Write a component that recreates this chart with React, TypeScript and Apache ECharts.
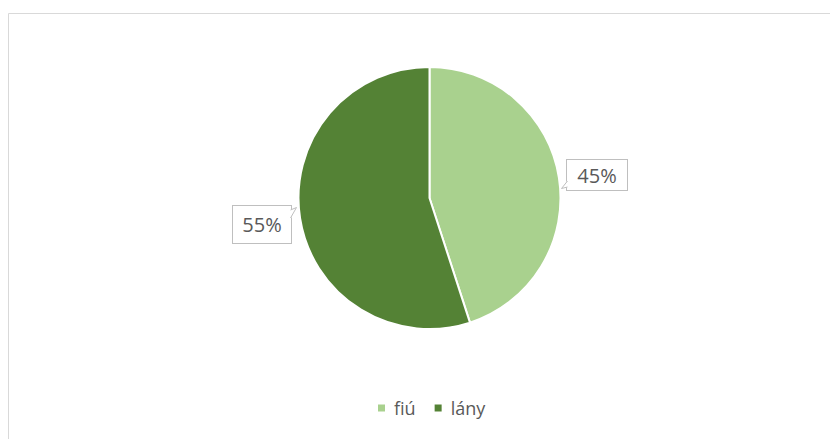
import React, { useEffect, useRef } from "react";
import * as echarts from "echarts";

const categories = ["fiú", "lány"];
const values = [45, 55];
const colors = ["#A9D18E", "#548235"];

export default function App() {
  const ref = useRef<HTMLDivElement>(null);
  useEffect(() => {
    if (!ref.current) return;
    const chart = echarts.init(ref.current, null, { renderer: "svg" });
    const font = "'Open Sans', sans-serif";
    const boxStroke = "#bfbfbf";
    chart.setOption({
      animation: false,
      backgroundColor: "#ffffff",
      color: colors,
      graphic: [
        {
          type: "rect",
          shape: { x: 0.5, y: 5.5, width: 900, height: 500 },
          style: { fill: "none", stroke: "#d9d9d9", lineWidth: 1 },
          silent: true,
          z: 0,
        },
        {
          type: "line",
          shape: { x1: 559.5, y1: 173, x2: 559.5, y2: 179 },
          style: { stroke: "#ffffff", lineWidth: 2 },
          z: 100,
          silent: true,
        },
        {
          type: "polyline",
          shape: { points: [[559.5, 173], [553.5, 180.5], [559.5, 179]] },
          style: { stroke: boxStroke, fill: "#ffffff", lineWidth: 1 },
          z: 101,
          silent: true,
        },
        {
          type: "line",
          shape: { x1: 282.5, y1: 202, x2: 282.5, y2: 210 },
          style: { stroke: "#ffffff", lineWidth: 2 },
          z: 100,
          silent: true,
        },
        {
          type: "polyline",
          shape: { points: [[282.5, 202], [288.5, 199.5], [282.5, 210]] },
          style: { stroke: boxStroke, fill: "#ffffff", lineWidth: 1 },
          z: 101,
          silent: true,
        },
      ],
      legend: {
        bottom: 22,
        left: 368,
        padding: 0,
        icon: "rect",
        itemWidth: 9,
        itemHeight: 9,
        itemGap: 17,
        textStyle: {
          fontFamily: font,
          fontSize: 18,
          color: "#595959",
          padding: [0, 0, 0, 3],
        },
        data: categories,
      },
      series: [
        {
          type: "pie",
          center: [421.5, 190],
          radius: 131,
          startAngle: 90,
          clockwise: true,
          data: categories.map((c, i) => ({
            name: c,
            value: values[i],
            label:
              i === 0
                ? { width: 42, height: 22, padding: [4, 9, 4, 9] }
                : { width: 42, height: 22, padding: [8, 8, 7, 8] },
          })),
          itemStyle: { borderColor: "#ffffff", borderWidth: 2 },
          label: {
            show: true,
            position: "outside",
            formatter: "{d}%",
            fontFamily: font,
            fontSize: 20,
            lineHeight: 22,
            align: "center",
            overflow: "none",
            color: "#595959",
            backgroundColor: "#ffffff",
            borderColor: boxStroke,
            borderWidth: 1,
          },
          labelLine: { show: false },
          labelLayout: (params: any) => {
            return params.dataIndex === 0
              ? { x: 589, y: 167, align: "center", verticalAlign: "middle" }
              : { x: 254, y: 216.5, align: "center", verticalAlign: "middle" };
          },
        },
      ],
    });
    return () => chart.dispose();
  }, []);
  return <div ref={ref} style={{ width: 830, height: 431 }} />;
}
